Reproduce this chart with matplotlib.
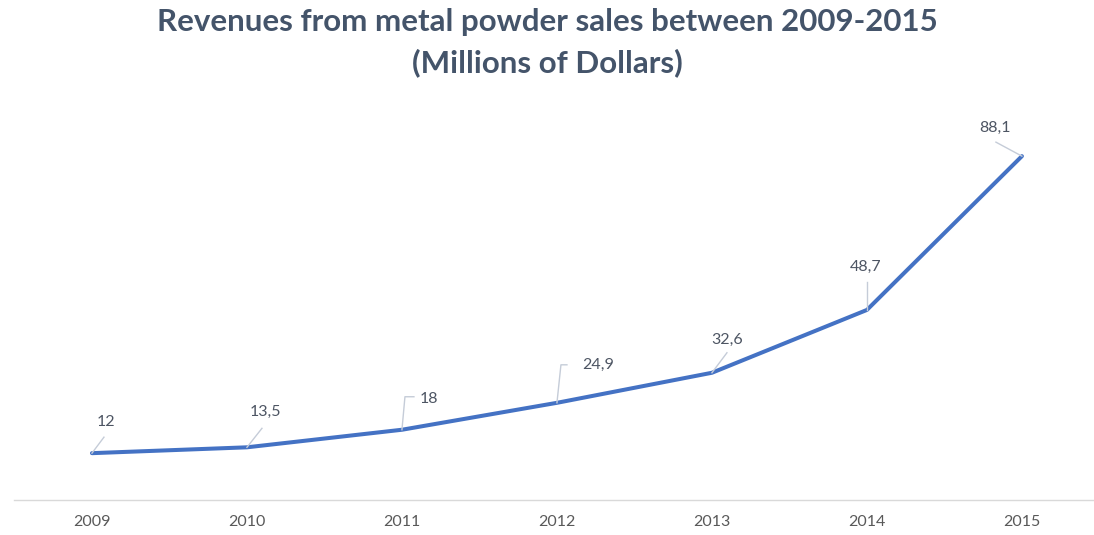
import matplotlib
matplotlib.use('Agg')
import matplotlib.pyplot as plt

years = ["2009", "2010", "2011", "2012", "2013", "2014", "2015"]
revenue = [12, 13.5, 18, 24.9, 32.6, 48.7, 88.1]
labels = ["12", "13,5", "18", "24,9", "32,6", "48,7", "88,1"]

# label placement in pixels relative to each point: (text dx, dy), leader path
text_off = [(14, 31), (18, 35), (27, 31), (41, 38), (15, 33), (-1, 43), (-27, 28)]
leaders = [
    [(0, 0), (12, 16)],
    [(0, 0), (15, 19)],
    [(0, 0), (3, 33), (12, 33)],
    [(0, 0), (4, 38), (10, 38)],
    [(0, 0), (15, 20)],
    [(0, 0), (0, 28)],
    [(0, 0), (-26, 14)],
]

plt.rcParams['font.family'] = ['Lato', 'DejaVu Sans']

W, H = 1094, 535
fig = plt.figure(figsize=(W / 100, H / 100), dpi=100)
ax = fig.add_axes([14 / W, 35 / H, 1080 / W, 390.3 / H])

x = list(range(len(years)))
ax.plot(x, revenue, color="#4472C4", linewidth=2.9, solid_capstyle='round',
        solid_joinstyle='round', zorder=3)

ax.set_xlim(-0.503, 6.465)
ax.set_ylim(0, 100)
ax.set_xticks(x)
ax.set_xticklabels(years, fontsize=11.5, color="#595959")
ax.tick_params(axis='x', length=0, pad=11)
ax.set_yticks([])
for side in ['top', 'right', 'left']:
    ax.spines[side].set_visible(False)
ax.spines['bottom'].set_color("#D9D9D9")
ax.spines['bottom'].set_linewidth(1)

# data labels with leader lines
trans = ax.transData
for i, (val, lab) in enumerate(zip(revenue, labels)):
    px, py = trans.transform((i, val))
    path = [fig.transFigure.inverted().transform((px + dx, py + dy)) for dx, dy in leaders[i]]
    fig.add_artist(plt.Line2D([p[0] for p in path], [p[1] for p in path],
                              color="#C5CCD8", linewidth=1, zorder=2))
    tdx, tdy = text_off[i]
    ax.annotate(lab, (i, val), xytext=(tdx, tdy), textcoords='offset pixels',
                ha='center', va='center', fontsize=11.5, color="#4D5563")

fig.text(0.5, 1 - 22 / H, "Revenues from metal powder sales between 2009-2015",
         ha='center', va='center', fontsize=22.5, fontweight='bold', color="#44546A")
fig.text(0.5, 1 - 63 / H, "(Millions of Dollars)",
         ha='center', va='center', fontsize=22.5, fontweight='bold', color="#44546A")

fig.savefig("out.png", dpi=100, facecolor='white')
